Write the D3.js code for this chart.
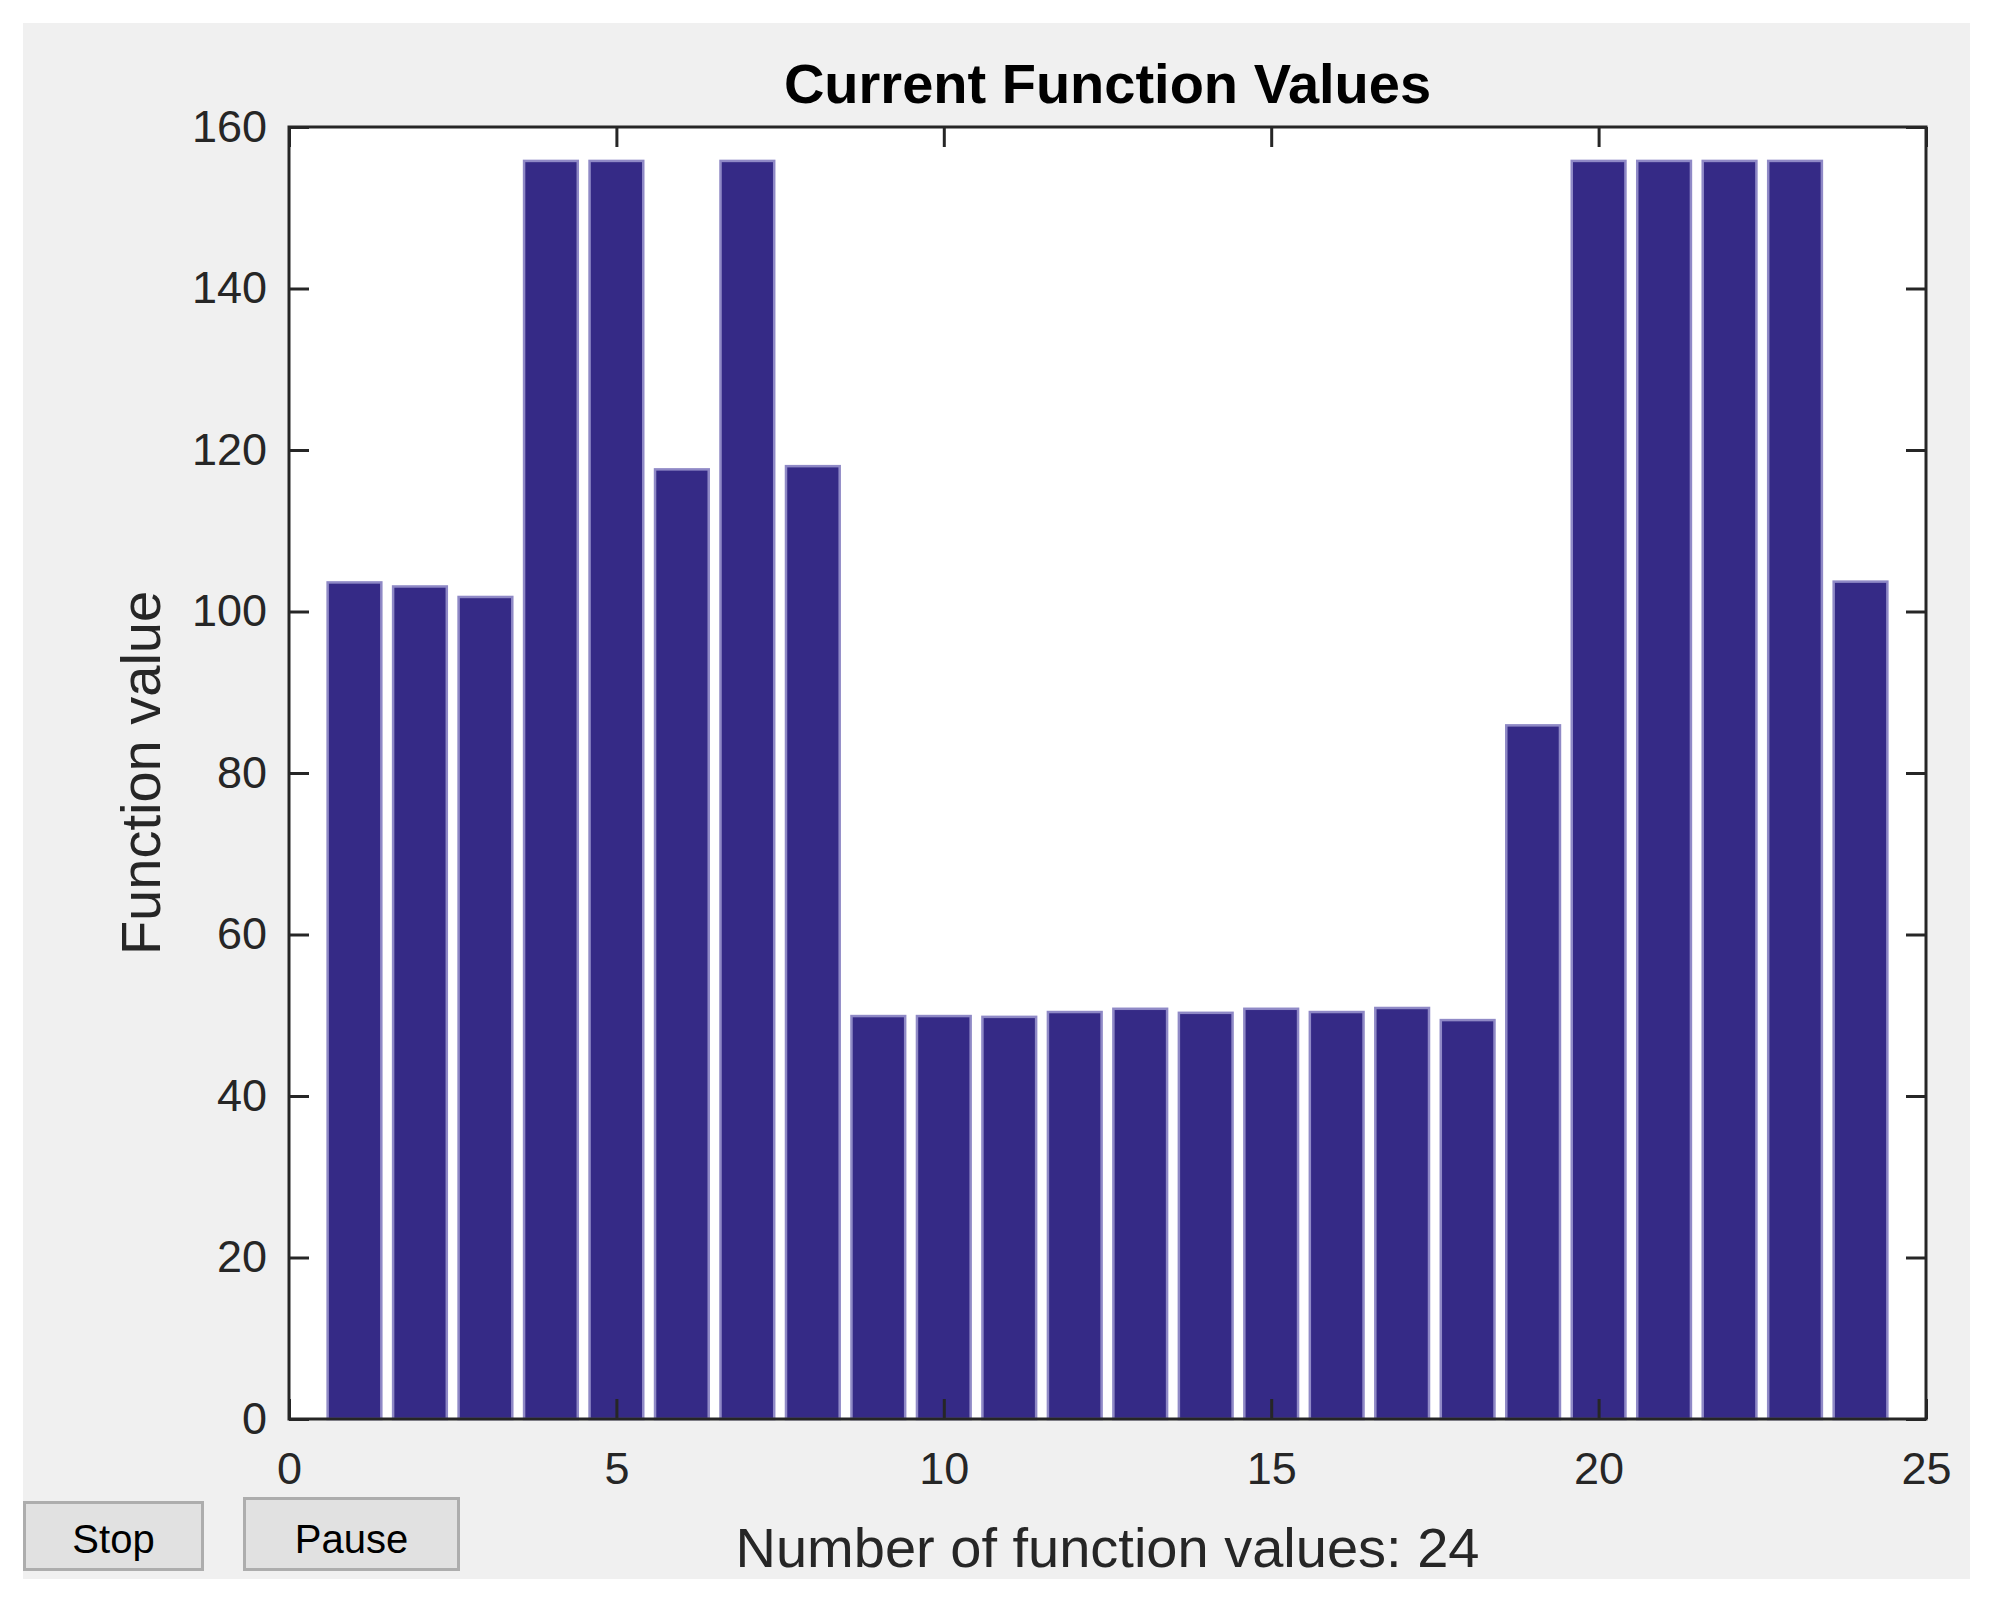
<!DOCTYPE html>
<html>
<head>
<meta charset="utf-8">
<script src="https://cdn.jsdelivr.net/npm/d3@7"></script>
<style>
  html, body { margin: 0; padding: 0; background: #ffffff; }
  svg { display: block; }
  text { font-family: "Liberation Sans", Arial, Helvetica, sans-serif; }
</style>
</head>
<body>
<svg id="chart" width="1996" height="1597"></svg>
<script>
// ---- data ----
const categories = d3.range(1, 25); // 1..24
const values = [103.6, 103.1, 101.8, 155.8, 155.8, 117.6, 155.8, 118.0,
                49.9, 49.9, 49.8, 50.4, 50.8, 50.3, 50.8, 50.4, 50.9, 49.4,
                85.9, 155.8, 155.8, 155.8, 155.8, 103.7];
const xTicks = [0, 5, 10, 15, 20, 25];
const yTicks = [0, 20, 40, 60, 80, 100, 120, 140, 160];
const titleText = "Current Function Values";
const xLabelText = "Number of function values: 24";
const yLabelText = "Function value";
const buttonLabels = ["Stop", "Pause"];

// ---- layout ----
const svg = d3.select("#chart");
const L = 289, R = 1926, T = 127, B = 1419;
const x = d3.scaleLinear().domain([0, 25]).range([L, R]);
const y = d3.scaleLinear().domain([0, 160]).range([B, T]);
const axisColor = "#262626";

// figure panel
svg.append("rect").attr("x", 23).attr("y", 23).attr("width", 1947).attr("height", 1556)
  .attr("fill", "#f0f0f0");

// plot area
svg.append("rect").attr("x", L).attr("y", T).attr("width", R - L).attr("height", B - T)
  .attr("fill", "#ffffff");

// bars
const barW = 0.82;
svg.append("g").selectAll("rect").data(categories).join("rect")
  .attr("x", (d) => x(d - barW / 2))
  .attr("width", x(barW) - x(0))
  .attr("y", (d, i) => y(values[i]))
  .attr("height", (d, i) => y(0) - y(values[i]))
  .attr("fill", "#352a86")
  .attr("stroke", "#8f89c6")
  .attr("stroke-width", 2.5);

// axes
const fontSize = 45;
const gx = svg.append("g").attr("transform", `translate(0,${B})`)
  .call(d3.axisBottom(x).tickValues(xTicks).tickSizeInner(-20).tickSizeOuter(0).tickPadding(33).tickFormat(d3.format("d")));
const gy = svg.append("g").attr("transform", `translate(${L},0)`)
  .call(d3.axisLeft(y).tickValues(yTicks).tickSizeInner(-20).tickSizeOuter(0).tickPadding(22).tickFormat(d3.format("d")));
const gxt = svg.append("g").attr("transform", `translate(0,${T})`)
  .call(d3.axisTop(x).tickValues(xTicks).tickSizeInner(-20).tickSizeOuter(0).tickFormat(""));
const gyr = svg.append("g").attr("transform", `translate(${R},0)`)
  .call(d3.axisRight(y).tickValues(yTicks).tickSizeInner(-20).tickSizeOuter(0).tickFormat(""));

[gx, gy, gxt, gyr].forEach((g) => {
  g.select(".domain").remove();
  g.selectAll(".tick line").attr("stroke", axisColor).attr("stroke-width", 3);
  g.selectAll(".tick text").attr("fill", axisColor)
    .style("font-size", fontSize + "px")
    .style("font-family", '"Liberation Sans", Arial, sans-serif');
});

// box
svg.append("rect").attr("x", L).attr("y", T).attr("width", R - L).attr("height", B - T)
  .attr("fill", "none").attr("stroke", axisColor).attr("stroke-width", 3);

// title
svg.append("text").attr("x", (L + R) / 2).attr("y", 103)
  .attr("text-anchor", "middle").attr("font-size", 56).attr("font-weight", "bold")
  .attr("fill", "#000").text(titleText);

// x label
svg.append("text").attr("x", (L + R) / 2).attr("y", 1567)
  .attr("text-anchor", "middle").attr("font-size", 56).attr("fill", axisColor)
  .text(xLabelText);

// y label
svg.append("text").attr("transform", `translate(160,${(T + B) / 2}) rotate(-90)`)
  .attr("text-anchor", "middle").attr("font-size", 56).attr("fill", axisColor)
  .text(yLabelText);

// buttons
const buttons = [
  { label: buttonLabels[0], x0: 23, x1: 204, y0: 1501, y1: 1571 },
  { label: buttonLabels[1], x0: 243, x1: 460, y0: 1497, y1: 1571 }
];
const bg = svg.append("g").selectAll("g").data(buttons).join("g");
bg.append("rect")
  .attr("x", (d) => d.x0 + 1.5).attr("y", (d) => d.y0 + 1.5)
  .attr("width", (d) => d.x1 - d.x0 - 3).attr("height", (d) => d.y1 - d.y0 - 3)
  .attr("fill", "#e1e1e1").attr("stroke", "#adadad").attr("stroke-width", 3);
bg.append("text")
  .attr("x", (d) => (d.x0 + d.x1) / 2).attr("y", 1553)
  .attr("text-anchor", "middle").attr("font-size", 40).attr("fill", "#000")
  .text((d) => d.label);
</script>
</body>
</html>
